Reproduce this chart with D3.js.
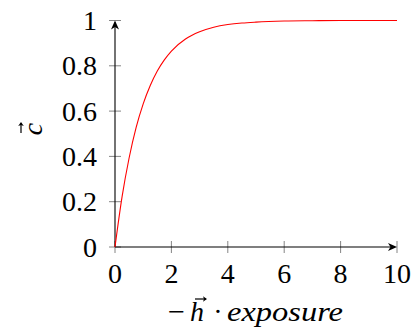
<!DOCTYPE html>
<html><head><meta charset="utf-8">
<script src="https://cdn.jsdelivr.net/npm/d3@7"></script>
<style>
body{margin:0;background:#fff;}
</style></head>
<body><svg id="c" width="413" height="331"></svg>
<script>
const xValues = [0,0.25,0.5,0.75,1,1.25,1.5,1.75,2,2.5,3,3.5,4,4.5,5,6,7,8,9,10];
const cValues = [0,0.221,0.393,0.528,0.632,0.713,0.777,0.826,0.865,0.918,0.950,0.970,0.982,0.989,0.993,0.9975,0.999,1,1,1];
const xTicks = [0,2,4,6,8,10];
const yTicks = [0,0.2,0.4,0.6,0.8,1];
const yTickLabels = ["0","0.2","0.4","0.6","0.8","1"];
const FONT = '"Liberation Serif"';
const FS = 28;

const svg = d3.select("#c");
const x = d3.scaleLinear().domain([0,10]).range([115,397]);
const y = d3.scaleLinear().domain([0,1]).range([247,20.5]);

const tl = 6;
svg.append("g").selectAll("line").data(xTicks).join("line")
  .attr("x1",d=>x(d)).attr("x2",d=>x(d)).attr("y1",y(0)-tl).attr("y2",y(0)+tl)
  .attr("stroke","#777").attr("stroke-width",0.9);
svg.append("g").selectAll("line").data(yTicks).join("line")
  .attr("y1",d=>y(d)).attr("y2",d=>y(d)).attr("x1",x(0)-tl).attr("x2",x(0)+tl)
  .attr("stroke","#777").attr("stroke-width",0.9);

svg.append("line").attr("x1",x(0)).attr("x2",x(10)-2).attr("y1",y(0)).attr("y2",y(0))
  .attr("stroke","#000").attr("stroke-width",1.1);
svg.append("line").attr("x1",x(0)).attr("x2",x(0)).attr("y1",y(0)).attr("y2",y(1)+2)
  .attr("stroke","#000").attr("stroke-width",1.1);
const ax = x(10), ay = y(0);
svg.append("path").attr("d",`M${ax},${ay} L${ax-9},${ay-4} L${ax-6.5},${ay} L${ax-9},${ay+4} Z`).attr("fill","#000");
const bx = x(0), by = y(1);
svg.append("path").attr("d",`M${bx},${by} L${bx-4},${by+9} L${bx},${by+6.5} L${bx+4},${by+9} Z`).attr("fill","#000");

svg.append("g").selectAll("text").data(xTicks).join("text")
  .attr("x",d=>x(d)).attr("y",y(0)+36).attr("text-anchor","middle")
  .style("font-family",FONT).style("font-size",FS+"px").text(d=>d);
svg.append("g").selectAll("text").data(yTicks).join("text")
  .attr("x",x(0)-18).attr("y",d=>y(d)+9.5).attr("text-anchor","end")
  .style("font-family",FONT).style("font-size",FS+"px").text((d,i)=>yTickLabels[i]);

const line = d3.line().x((d,i)=>x(xValues[i])).y(d=>y(d)).curve(d3.curveMonotoneX);
svg.append("path").datum(cValues).attr("d",line).attr("fill","none")
  .attr("stroke","#ff0000").attr("stroke-width",1.1);

function vecArrow(g, x0, x1, yy){
  g.append("line").attr("x1",x0).attr("x2",x1-1).attr("y1",yy).attr("y2",yy)
    .attr("stroke","#000").attr("stroke-width",1.2);
  g.append("path").attr("d",`M${x1},${yy} L${x1-4},${yy-2.8} L${x1-3},${yy} L${x1-4},${yy+2.8} Z`).attr("fill","#000");
}

// x label: −h⃗ · exposure
const base = 321;
const xl = svg.append("g");
function part(t, x0, w, italic){
  return xl.append("text").attr("x",x0).attr("y",base)
    .attr("textLength",w).attr("lengthAdjust","spacingAndGlyphs")
    .style("font-family",FONT).style("font-size",FS+"px")
    .style("font-style",italic?"italic":"normal").text(t);
}
part("−",168,17,false);
part("h",190,14,true);
xl.append("text").attr("x",218).attr("y",base).attr("text-anchor","middle")
  .style("font-family",FONT).style("font-size",FS+"px").text("·");
part("exposure",227,116,true);
vecArrow(xl, 195, 207, 299);

// y label: c⃗ rotated
const yl = svg.append("g").attr("transform","translate(42,129) rotate(-90)");
const ct = yl.append("text").attr("x",0).attr("y",0).attr("text-anchor","middle")
  .style("font-family",FONT).style("font-size",FS+"px").style("font-style","italic").text("c");
vecArrow(yl, -4, 7, -21);
</script></body></html>
